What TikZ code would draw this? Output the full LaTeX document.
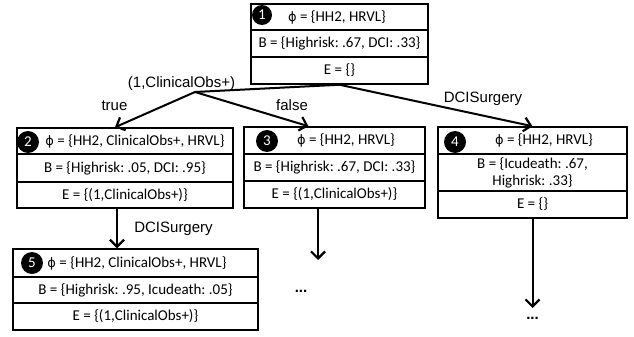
\documentclass[tikz,border=0pt]{standalone}
\usepackage{fontspec}
\setmainfont{Carlito}
\newfontfamily\arialf{Liberation Sans}
\newfontfamily\phif{DejaVu Sans}
\newcommand{\myphi}{{\phif\fontsize{13}{15}\selectfont ϕ}}
\usetikzlibrary{arrows.meta,calc}
\frenchspacing
\begin{document}
\frenchspacing
\begin{tikzpicture}[x=1pt,y=-1pt,
 rowbox/.style={draw, line width=1.5pt, inner sep=0pt, align=center, font=\fontsize{15}{17}\selectfont},
 txt/.style={inner sep=0pt, font=\fontsize{15}{17}\selectfont},
 numdot/.style={circle, fill=black, text=white, inner sep=0pt, minimum size=22pt, font=\fontsize{15}{17}\selectfont},
 elabel/.style={inner sep=0pt, anchor=base, font=\arialf\fontsize{15}{17}\selectfont},
 dotlabel/.style={inner sep=0pt, anchor=base, font=\arialf\bfseries\fontsize{15}{17}\selectfont},
 conn/.style={line width=2pt, -{Straight Barb[length=7pt,width=14pt,line width=2.2pt]}},
 plainline/.style={line width=2pt}
]
\useasboundingbox (0,0) rectangle (634,337);

% Box 1
\node[rowbox, minimum width=177pt, minimum height=26pt] (b1a) at (339.5,17) {};
\node[rowbox, minimum width=177pt, minimum height=27pt] (b1b) at (339.5,43.5) {B = \{Highrisk: .67, DCI: .33\}};
\node[rowbox, minimum width=177pt, minimum height=27pt] (b1c) at (339.5,70.5) {E = \{\}};
\node[txt] (t1) at (337,17) {\myphi{} = \{HH2, HRVL\}};
\node[numdot, minimum size=20pt] (n1) at (262,15) {1};

% Box 2
\node[rowbox, minimum width=216pt, minimum height=26pt] (b2a) at (125,141) {};
\node[rowbox, minimum width=216pt, minimum height=28pt] (b2b) at (125,168) {B = \{Highrisk: .05, DCI: .95\}};
\node[rowbox, minimum width=216pt, minimum height=26pt] (b2c) at (125,195) {E = \{(1,ClinicalObs+)\}};
\node[txt] (t2) at (135,141) {\myphi{} = \{HH2, ClinicalObs+, HRVL\}};
\node[numdot] (n2) at (28,142) {2};

% Box 3
\node[rowbox, minimum width=181pt, minimum height=27pt] (b3a) at (334.5,140.5) {};
\node[rowbox, minimum width=181pt, minimum height=27pt] (b3b) at (334.5,167.5) {B = \{Highrisk: .67, DCI: .33\}};
\node[rowbox, minimum width=181pt, minimum height=27pt] (b3c) at (334.5,194.5) {E = \{(1,ClinicalObs+)\}};
\node[txt] (t3) at (346,140.5) {\myphi{} = \{HH2, HRVL\}};
\node[numdot] (n3) at (267,141) {3};

% Box 4
\node[rowbox, minimum width=189pt, minimum height=27pt] (b4a) at (532.5,140.5) {};
\node[rowbox, minimum width=189pt, minimum height=37pt] (b4b) at (532.5,172.5) {B = \{Icudeath: .67,\\Highrisk: .33\}};
\node[rowbox, minimum width=189pt, minimum height=27pt] (b4c) at (532.5,204.5) {E = \{\}};
\node[txt] (t4) at (544,140.5) {\myphi{} = \{HH2, HRVL\}};
\node[numdot] (n4) at (455,142) {4};

% Box 5
\node[rowbox, minimum width=245pt, minimum height=28pt] (b5a) at (135.5,263) {};
\node[rowbox, minimum width=245pt, minimum height=26pt] (b5b) at (135.5,290) {B = \{Highrisk: .95, Icudeath: .05\}};
\node[rowbox, minimum width=245pt, minimum height=27pt] (b5c) at (135.5,316.5) {E = \{(1,ClinicalObs+)\}};
\node[txt] (t5) at (137,263) {\myphi{} = \{HH2, ClinicalObs+, HRVL\}};
\node[numdot] (n5) at (32,263) {5};

% Connectors
\coordinate (j) at (195,92);
\draw[plainline] (b1c.south) -- (j);
\draw[conn] (j) -- ($(b2a.north)+(-10,0)$);
\draw[conn] (j) -- ($(b3a.north)+(-26,0)$);
\draw[conn] (b1c.south) -- (b4a.north);

\coordinate (s2) at ($(b2c.south)+(-8,0)$);
\draw[conn] (s2) -- (s2 |- b5a.north);

\coordinate (s3) at ($(b3c.south)+(-16.5,0)$);
\coordinate (e3) at (318,260);
\draw[conn] (s3) -- (e3);

\coordinate (e4) at (532.5,308);
\draw[conn] (b4c.south) -- (e4);

% Labels
\node[elabel] (l1) at (181.5,87.5) {(1,ClinicalObs+)};
\node[elabel] (l2) at (114.5,110) {true};
\node[elabel] (l3) at (292,110) {false};
\node[elabel] (l4) at (483,102) {DCISurgery};
\node[elabel] (l5) at (173.5,232) {DCISurgery};
\node[dotlabel] (d3) at (301,292) {...};
\node[dotlabel] (d4) at (532.5,319) {...};
\end{tikzpicture}
\end{document}
